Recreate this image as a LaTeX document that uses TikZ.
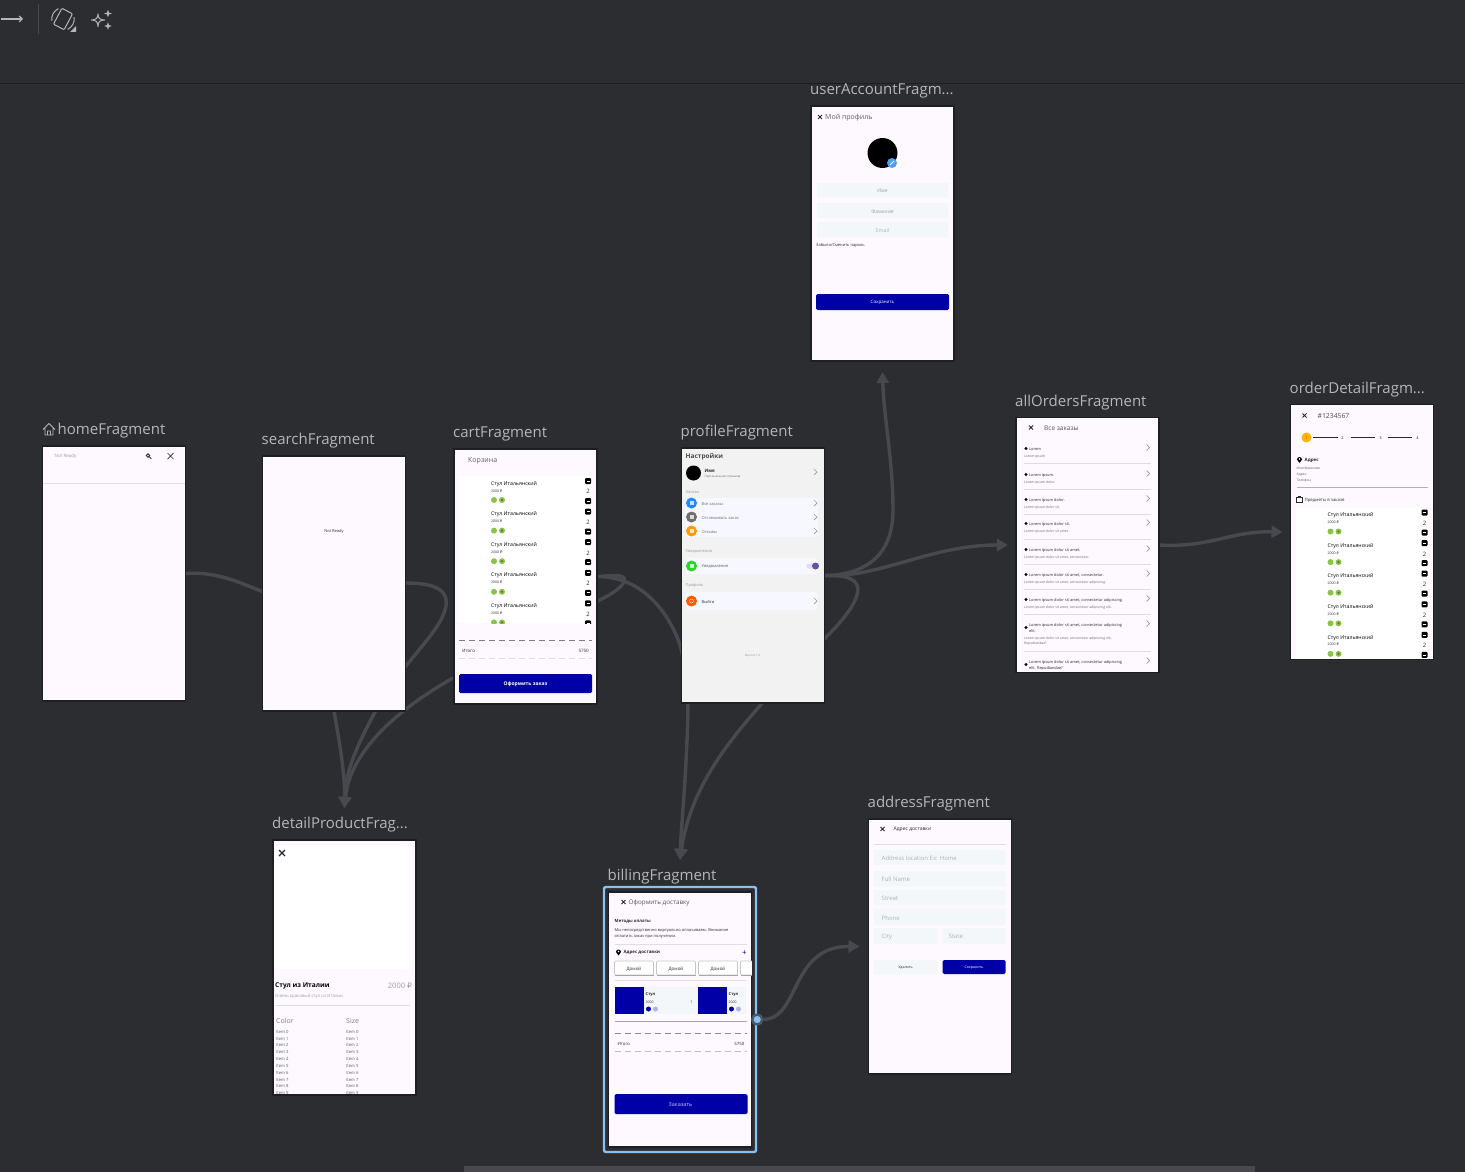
\documentclass[tikz,border=0pt]{standalone}
\usepackage{fontspec}
\setmainfont{Open Sans}
\newfontfamily\symfont{DejaVu Sans}
\usetikzlibrary{arrows.meta,positioning,backgrounds}

\definecolor{canvas}{HTML}{2B2D30}
\definecolor{edgeline}{HTML}{47494F}
\definecolor{frameline}{HTML}{1E1F22}
\definecolor{labelgray}{HTML}{B4B6BA}
\definecolor{screenbg}{HTML}{FEF8FF}
\definecolor{fieldbg}{HTML}{F4F7FA}
\definecolor{rulegray}{HTML}{DDDEE2}
\definecolor{mute}{HTML}{9A9CA2}
\definecolor{ink}{HTML}{2A2A2E}
\definecolor{btnblue}{HTML}{0000A6}
\definecolor{leafgreen}{HTML}{8BC34A}
\definecolor{selblue}{HTML}{8CC0F0}
\definecolor{toggleon}{HTML}{6750A4}
\definecolor{toggleoff}{HTML}{E4DAF5}

\newcommand{\rub}{{\symfont ₽}}

% list of chairs, used by cartFragment and orderDetailFragment
\newcommand{\chairlist}[2]{%
  \begin{scope}
    \clip (0,0) rectangle (133,#2);
    \fill[white] (0,0) rectangle (133,#2);
    \foreach \i in {0,...,4} {
      \begin{scope}[shift={(0,{30.6*\i})}]
        \node (#1name\i) [txt=5.2, text=black] at (32,7) {Стул Итальянский};
        \node (#1cost\i) [txt=3.5] at (32,14) {2000 \rub};
        \fill[leafgreen] (35,24) circle (3);
        \fill[leafgreen] (43,24) circle (3);
        \fill[leafgreen!60!black] (43,24) circle (1.2);
        \fill[black, rounded corners=1] (126,2) rectangle (132,8);
        \draw[white, line width=.8] (127.5,5) -- (130.5,5);
        \node (#1qty\i) [txt=6, anchor=center] at (129,15) {2};
        \fill[black, rounded corners=1] (126,22) rectangle (132,28);
        \draw[white, line width=.8] (127.5,25) -- (130.5,25);
      \end{scope}
    }
  \end{scope}
}

\begin{document}
\begin{tikzpicture}[
    x=1pt, y=-1pt, % one unit is one pixel of the reference
    screen/.style={rectangle, draw=frameline, line width=1.2pt, fill=screenbg, minimum width=143pt, minimum height=255pt, inner sep=0pt, outer sep=0pt},
    lbl/.style={font=\fontsize{15}{15}\selectfont, text=labelgray, inner sep=0pt, text height=12pt, text depth=4pt},
    txt/.style={font=\fontsize{#1}{#1}\selectfont, text=ink, inner sep=0pt, anchor=west, yshift=-.8pt},
    flow/.style={draw=edgeline, line width=3.4pt, -{Triangle[length=11pt,width=12pt]}},
    bluebtn/.style={fill=btnblue, rounded corners=1.5pt},
    field/.style={fill=fieldbg, rounded corners=1pt},
    hairline/.style={draw=rulegray, line width=.7pt},
    dashrule/.style={draw=#1, line width=.6pt, dash pattern=on 6pt off 4pt},
    chevron/.pic={\draw[mute, line width=.7pt] (-1.5,-3) -- (1.5,0) -- (-1.5,3);},
    closex/.pic={\draw[ink, line width=.8pt] (-2,-2) -- (2,2) (-2,2) -- (2,-2);}
]
    \useasboundingbox (0,0) rectangle (1465,1172);

    % the screens, each placed from its neighbour
    \node (home) [screen] at (114,573.5) {};
    \node (search) [screen, right=77pt of home, yshift=-10pt] {};
    \node (cart) [screen, right=48.5pt of search, yshift=7pt] {};
    \node (profile) [screen, right=84.5pt of cart, yshift=1pt, fill=white!95!black] {};
    \node (allOrders) [screen, right=191.5pt of profile, yshift=30.5pt] {};
    \node (orderDetail) [screen, right=131.5pt of allOrders, yshift=13pt] {};
    \node (userAccount) [screen, above=87pt of profile, xshift=129.5pt] {};
    \node (detailProduct) [screen, below=129pt of search, xshift=10.5pt] {};
    \node (billing) [screen, below=189pt of profile, xshift=-73pt] {};
    \node (address) [screen, right=117pt of billing, yshift=73pt] {};

    % the names above the screens
    \node (homeLbl) [lbl, above right=7pt and 15pt of home.north west] {homeFragment};
    \node (searchLbl) [lbl, above right=7pt and -1pt of search.north west] {searchFragment};
    \node (cartLbl) [lbl, above right=7pt and -1pt of cart.north west] {cartFragment};
    \node (profileLbl) [lbl, above right=7pt and -1pt of profile.north west] {profileFragment};
    \node (allOrdersLbl) [lbl, above right=7pt and -1pt of allOrders.north west] {allOrdersFragment};
    \node (orderDetailLbl) [lbl, above right=7pt and -1pt of orderDetail.north west] {orderDetailFragm...};
    \node (userAccountLbl) [lbl, above right=7pt and -1pt of userAccount.north west] {userAccountFragm...};
    \node (detailProductLbl) [lbl, above right=7pt and -1pt of detailProduct.north west] {detailProductFrag...};
    \node (billingLbl) [lbl, above right=7pt and -1pt of billing.north west] {billingFragment};
    \node (addressLbl) [lbl, above right=7pt and -1pt of address.north west] {addressFragment};
    \draw[labelgray, line width=.8pt, line join=round] (43,429.5) -- (49,423.5) -- (55,429.5) (45,428) -- (45,435) -- (53,435) -- (53,428) (47.5,435) -- (47.5,431) -- (50.5,431) -- (50.5,435);

    % free ends of the arrows
    \node (userIn) [coordinate, below=11pt of userAccount.south] {};
    \node (allIn) [coordinate, left=8pt of allOrders.west] {};
    \node (orderIn) [coordinate, left=8pt of orderDetail.west] {};
    \node (detailIn) [coordinate, above=32pt of detailProduct.north] {};
    \node (billingIn) [coordinate, above=32pt of billing.north] {};
    \node (addressIn) [coordinate, left=9pt of address.west] {};

    % selection round billingFragment
    \node (billingSel) [rectangle, draw=selblue, line width=2.4pt, rounded corners=2pt, minimum width=152pt, minimum height=265pt] at (billing.center) {};
    \node (billingOut) [circle, draw=canvas!70!selblue, line width=2.4pt, fill=selblue, minimum size=10pt, inner sep=0pt] at (billingSel.east) {};

    % the canvas and the arrows go under the screens
    \begin{pgfonlayer}{background}
        \fill[canvas] (0,0) rectangle (1465,1172);
        \draw[frameline, line width=1pt] (0,83.5) -- (1465,83.5);
        \fill[edgeline] (464,1166) rectangle (1255,1172);
        \draw[flow] (home.east) .. controls (235,570) and (262,600) .. (300,600) .. controls (340,600) and (370,582) .. (406,583) .. controls (435,583) and (451,590) .. (445,610) .. controls (438,635) and (400,665) .. (375,712) .. controls (360,740) and (345,770) .. (detailIn);
        \draw[flow] (search.south) .. controls (340,745) and (345,775) .. (detailIn);
        \draw[flow] (cart.east) .. controls (610,576) and (632,572) .. (622,585) .. controls (615,593) and (605,597) .. (598,601) .. controls (550,630) and (500,650) .. (453,678) .. controls (400,708) and (350,750) .. (detailIn);
        \draw[flow] (cart.east) .. controls (640,576) and (668,610) .. (680,645) .. controls (690,680) and (688,720) .. (687,740) .. controls (685,790) and (681,830) .. (billingIn);
        \draw[flow] (profile.east) .. controls (845,575) and (862,578) .. (857,595) .. controls (850,620) and (810,650) .. (765,700) .. controls (725,745) and (690,790) .. (billingIn);
        \draw[flow] (profile.east) .. controls (860,575) and (893,560) .. (893,510) .. controls (893,460) and (884,420) .. (userIn);
        \draw[flow] (profile.east) .. controls (880,578) and (930,545) .. (allIn);
        \draw[flow] (allOrders.east) .. controls (1210,548) and (1230,531) .. (orderIn);
        \draw[flow] (billingOut) .. controls (800,1019) and (790,946) .. (addressIn);
    \end{pgfonlayer}

    % toolbar
    \draw[labelgray, line width=1.2pt, -{Straight Barb[length=3pt,width=6pt]}] (1,19) -- (23,19);
    \draw[edgeline, line width=1pt] (38,4) -- (38,34);
    \begin{scope}[shift={(63,19)}, rotate=-28]
        \draw[labelgray, line width=1pt, rounded corners=1pt] (-6,-9) rectangle (6,9);
        \draw[labelgray, line width=1pt] (-9,-7) .. controls (-12,-2) and (-12,2) .. (-9,7);
        \draw[labelgray, line width=1pt] (9,-7) .. controls (12,-2) and (12,2) .. (9,7);
    \end{scope}
    \fill[labelgray] (76,26) -- (76,32) -- (70,32) -- cycle;
    \draw[labelgray, line width=1pt, line join=round] (91.5,20) .. controls (96,20) and (98,18) .. (98,14) .. controls (98,18) and (100,20) .. (104.5,20) .. controls (100,20) and (98,22) .. (98,26.5) .. controls (98,22) and (96,20) .. (91.5,20) -- cycle;
    \fill[labelgray] (108,9.5) .. controls (108.3,12.5) and (109,13.2) .. (112,13.5) .. controls (109,13.8) and (108.3,14.5) .. (108,17.5) .. controls (107.7,14.5) and (107,13.8) .. (104,13.5) .. controls (107,13.2) and (107.7,12.5) .. (108,9.5) -- cycle;
    \fill[labelgray] (108,22) .. controls (108.3,25) and (109,25.7) .. (112,26) .. controls (109,26.3) and (108.3,27) .. (108,30) .. controls (107.7,27) and (107,26.3) .. (104,26) .. controls (107,25.7) and (107.7,25) .. (108,22) -- cycle;

    % homeFragment
    \begin{scope}[shift={(home.north west)}]
        \node (homeText) [txt=4.5, text=mute] at (12,10) {Not Ready};
        \draw[ink, line width=.8pt] (105.5,9.5) circle (1.8) (107,11) -- (108.8,12.8);
        \draw[ink, line width=.7pt] (125,7) -- (131,13) (125,13) -- (131,7);
        \draw[hairline] (0,37) -- (142.5,37);
    \end{scope}

    % searchFragment
    \node (searchText) [txt=4, anchor=center] [below=72pt of search.north] {Not Ready};

    % cartFragment
    \begin{scope}[shift={(cart.north west)}]
        \node (cartTitle) [txt=7, text=ink!75] at (14,11) {Корзина};
        \begin{scope}[shift={(5,27)}]
            \chairlist{cart}{147}
        \end{scope}
        \draw[dashrule=ink!60] (5,191) -- (138,191);
        \draw[dashrule=rulegray] (5,209) -- (138,209);
        \node (cartSum) [txt=4.5] at (8,201) {Итого};
        \node (cartSumVal) [txt=4.5, anchor=east] at (135,201) {5750};
        \fill[bluebtn] (5,225) rectangle (138,244);
        \node (cartBtn) [txt=5, text=white, anchor=center, font=\fontsize{5}{5}\selectfont\bfseries] at (71.5,234.5) {Оформить заказ};
    \end{scope}

    % profileFragment
    \begin{scope}[shift={(profile.north west)}]
        \node (profTitle) [txt=6.5, text=ink!85, font=\fontsize{6.5}{6.5}\selectfont\bfseries] at (4,8) {Настройки};
        \fill[black] (12,25) circle (7.5);
        \node (profName) [txt=4.5, font=\fontsize{4.5}{4.5}\selectfont\bfseries] at (23,22) {Имя};
        \node (profPage) [txt=3, text=ink!70] at (23,28) {Персональная страница};
        \pic at (134,24) {chevron};
        \node (profOrders) [txt=4, text=mute] at (4,43) {Заказы};
        \fill[white!97!blue, rounded corners=3pt] (4,50) rectangle (136,89);
        \foreach \ty/\tc/\tx in {55/1E88FF/Все заказы, 69/6E6E6E/Отслеживать заказ, 83/FF9800/Отзывы} {
            \definecolor{iconc}{HTML}{\tc}
            \fill[iconc] (10,\ty) circle (5.5);
            \fill[white, opacity=.75] (8,\ty-2) rectangle (12,\ty+2);
            \node (prof\ty) [txt=4, text=ink!70] at (20,\ty) {\tx};
            \pic at (134,\ty) {chevron};
        }
        \node (profNotif) [txt=4, text=mute] at (4,103) {Уведомления};
        \fill[white!97!blue, rounded corners=3pt] (4,110) rectangle (136,126);
        \fill[green!70!gray] (10,118) circle (5.5);
        \fill[white, opacity=.8] (8,116) rectangle (12,120);
        \node (profNotifRow) [txt=4, text=ink!80] at (20,118) {Уведомления};
        \fill[toggleoff, rounded corners=2pt] (125,115.5) rectangle (136,120.5);
        \fill[toggleon] (134,118) circle (3.5);
        \node (profProfile) [txt=4, text=mute] at (4,137) {Профиль};
        \fill[white!97!blue, rounded corners=3pt] (4,144) rectangle (136,162);
        \fill[orange!70!red] (10,153) circle (5.5);
        \draw[white, opacity=.8, line width=.5pt] (10,153) circle (2);
        \node (profExit) [txt=4, text=ink] at (20,153) {Выйти};
        \pic at (134,153) {chevron};
        \node (profVer) [txt=3, text=mute, anchor=center] at (71,207) {Версия 1.0};
    \end{scope}

    % allOrdersFragment
    \begin{scope}[shift={(allOrders.north west)}]
        \pic at (15,10) {closex};
        \node (allTitle) [txt=6.5, text=ink!80] at (28,10) {Все заказы};
        \foreach \ty/\rt/\rs/\dv in {
            31/{Lorem}/{Lorem ipsum}/46,
            57/{Lorem ipsum.}/{Lorem ipsum dolor.}/72,
            82/{Lorem ipsum dolor.}/{Lorem ipsum dolor sit.}/97,
            106/{Lorem ipsum dolor sit.}/{Lorem ipsum dolor sit amet.}/122,
            132/{Lorem ipsum dolor sit amet.}/{Lorem ipsum dolor sit amet, consectetur.}/147,
            157/{Lorem ipsum dolor sit amet, consectetur.}/{Lorem ipsum dolor sit amet, consectetur adipiscing.}/172,
            182/{Lorem ipsum dolor sit amet, consectetur adipiscing.}/{Lorem ipsum dolor sit amet, consectetur adipiscing elit.}/197} {
            \fill[black] (10,\ty) circle (1.6);
            \node (allRow\ty) [txt=3.9] at (13,\ty) {\rt};
            \node (allSub\ty) [txt=3.4, text=ink!70] at (8,\ty+7) {\rs};
            \pic at (132,\ty-1) {chevron};
            \draw[hairline] (8,\dv) -- (135,\dv);
        }
        \fill[black] (10,210) circle (1.6);
        \node (allRow8) [txt=3.9] at (13,207) {Lorem ipsum dolor sit amet, consectetur adipiscing};
        \node (allRow8b) [txt=3.9] at (13,213) {elit.};
        \node (allSub8) [txt=3.4, text=ink!70] at (8,220) {Lorem ipsum dolor sit amet, consectetur adipiscing elit,};
        \node (allSub8b) [txt=3.4, text=ink!70] at (8,225) {Repudiandae?};
        \pic at (132,206) {chevron};
        \draw[hairline] (8,234) -- (135,234);
        \fill[black] (10,247) circle (1.6);
        \node (allRow9) [txt=3.9] at (13,244) {Lorem ipsum dolor sit amet, consectetur adipiscing};
        \node (allRow9b) [txt=3.9] at (13,250) {elit. Repudiandae?};
        \pic at (132,243) {chevron};
    \end{scope}

    % orderDetailFragment
    \begin{scope}[shift={(orderDetail.north west)}]
        \pic at (14,11) {closex};
        \node (orderTitle) [txt=6.8, text=ink!85] at (27,11) {\#1234567};
        \fill[orange!60!yellow] (16,33) circle (5);
        \node (orderStep1) [txt=4, anchor=center, text=orange!60!black] at (16,33) {1};
        \draw[ink, line width=.7pt] (22,33) -- (47,33);
        \node (orderStep2) [txt=4, anchor=center] at (52,33) {2};
        \draw[ink, line width=.7pt] (60,33) -- (84,33);
        \node (orderStep3) [txt=4, anchor=center] at (90,33) {3};
        \draw[ink, line width=.7pt] (97,33) -- (121,33);
        \node (orderStep4) [txt=4, anchor=center] at (127,33) {4};
        \fill[black] (9,58.5) -- (6.5,55) arc (180:360:2.5) -- cycle;
        \fill[white] (9,54.5) circle (.9);
        \node (orderAddr) [txt=4.5, font=\fontsize{4.5}{4.5}\selectfont\bfseries] at (14,55) {Адрес};
        \node (orderAddr1) [txt=3.4, text=ink!75] at (6,63) {Имя Фамилия};
        \node (orderAddr2) [txt=3.4, text=ink!75] at (6,69) {Адрес};
        \node (orderAddr3) [txt=3.4, text=ink!75] at (6,75) {Телефон};
        \draw[hairline, draw=gray!60] (6,83) -- (137,83);
        \draw[ink, line width=.6pt] (6,98) -- (6,93) -- (12,93) -- (12,98) -- cycle (8,93) -- (8,91.5) -- (10,91.5) -- (10,93);
        \node (orderItems) [txt=4.3] at (14,95) {Предметы в заказе};
        \begin{scope}[shift={(5,103)}]
            \chairlist{order}{151.4}
        \end{scope}
    \end{scope}

    % userAccountFragment
    \begin{scope}[shift={(userAccount.north west)}]
        \pic at (9,11) {closex};
        \node (userTitle) [txt=7, text=ink!75] at (14,11) {Мой профиль};
        \fill[black] (71.5,47) circle (15);
        \fill[blue!55!cyan!70!white] (81,57) circle (5);
        \draw[white, line width=1pt] (79,59) -- (83,55);
        \fill[field] (6,77) rectangle (137,91);
        \fill[field] (6,97) rectangle (137,112);
        \fill[field] (6,116) rectangle (137,131);
        \node (userName) [txt=5, text=mute, anchor=center] at (71.5,84) {Имя};
        \node (userSurname) [txt=5, text=mute, anchor=center] at (71.5,104.5) {Фамилия};
        \node (userMail) [txt=5.5, text=mute!70, anchor=center] at (71.5,123.5) {Email};
        \node (userForgot) [txt=4] at (5,139) {Забыли/Сменить пароль};
        \fill[bluebtn] (5,188) rectangle (138,204);
        \node (userSave) [txt=4.5, text=white, anchor=center] at (71.5,196) {Сохранить};
    \end{scope}

    % detailProductFragment
    \begin{scope}[shift={(detailProduct.north west)}]
        \clip (0,0) rectangle (143,255);
        \fill[white, rounded corners=5pt] (2,6) rectangle (139,129);
        \draw[ink, line width=1.1pt] (6,10) -- (12,16) (6,16) -- (12,10);
        \node (detailName) [txt=6.6, text=black, font=\fontsize{6.6}{6.6}\selectfont\bfseries] at (2,145) {Стул из Италии};
        \node (detailCost) [txt=7.5, text=mute, anchor=east] at (139,145) {2000 \rub};
        \node (detailSub) [txt=4.3, text=mute] at (2,156) {Очень красивый стул из Италии};
        \draw[hairline] (3,165) -- (137,165);
        \node (detailColor) [txt=7, text=ink!60] at (3,180) {Color};
        \node (detailSize) [txt=7, text=ink!60] at (73,180) {Size};
        \foreach \i in {0,...,9} {
            \node (colorItem\i) [txt=4.2, text=ink!75] at (3,{191+6.83*\i}) {Item \i};
            \node (sizeItem\i) [txt=4.2, text=ink!75] at (73,{191+6.83*\i}) {Item \i};
        }
    \end{scope}

    % billingFragment
    \begin{scope}[shift={(billing.north west)}]
        \pic at (15,10) {closex};
        \node (billTitle) [txt=6.3, text=ink!80] at (20,10) {Оформить доставку};
        \node (billMethods) [txt=4.3, font=\fontsize{4.3}{4.3}\selectfont\bfseries] at (6,29) {Методы оплаты};
        \node (billNote1) [txt=4] at (6,38) {Мы непосредственно виртуально оплачиваем. Внимание};
        \node (billNote2) [txt=4] at (6,44) {оплатить заказ при получении.};
        \draw[hairline] (6,52) -- (138,52);
        \fill[black] (10,63.5) -- (7.5,60) arc (180:360:2.5) -- cycle;
        \fill[white] (10,59.5) circle (.9);
        \node (billAddr) [txt=4.4, font=\fontsize{4.4}{4.4}\selectfont\bfseries] at (15,60) {Адрес доставки};
        \node (billPlus) [txt=8, anchor=center, text=btnblue!70!black] at (136,60) {+};
        \begin{scope}
            \clip (0,60) rectangle (143.4,100);
            \foreach \cx in {6,48,90,132} {
                \draw[gray!45, fill=white, line width=.6pt, rounded corners=1pt] (\cx,69) rectangle ++(39,14);
                \draw[gray!70, line width=.7pt] (\cx,83) -- ++(39,0);
            }
        \end{scope}
        \node (billHome1) [txt=4.5, anchor=center] at (25.5,76) {Домой};
        \node (billHome2) [txt=4.5, anchor=center] at (67.5,76) {Домой};
        \node (billHome3) [txt=4.5, anchor=center] at (109.5,76) {Домой};
        \draw[hairline] (6,88) -- (138,88);
        \fill[fieldbg] (6,95) rectangle (138,122);
        \foreach \ox in {0,83} {
            \fill[btnblue] (6+\ox,95) rectangle (35+\ox,122);
            \node (billItem\ox) [txt=4, font=\fontsize{4}{4}\selectfont\bfseries] at (37+\ox,102) {Стул};
            \node (billCost\ox) [txt=3.4] at (37+\ox,109) {2000};
            \fill[btnblue] (40+\ox,117) circle (2.5);
            \fill[gray!50!blue!40] (47+\ox,117) circle (2.5);
        }
        \node (billQty) [txt=3.8, anchor=center] at (83,109) {1};
        \draw[hairline, draw=gray!70] (6,129) -- (138,129);
        \draw[dashrule=ink!55] (6,141) -- (138,141);
        \draw[dashrule=gray!50] (6,159) -- (138,159);
        \node (billSum) [txt=4.3] at (9,151) {Итого};
        \node (billSumVal) [txt=4.3, anchor=east] at (136,151) {5750};
        \fill[bluebtn] (6,202) rectangle (139,222);
        \node (billBtn) [txt=5.5, text=white!75!blue, anchor=center] at (72,212) {Заказать};
    \end{scope}

    % addressFragment
    \begin{scope}[shift={(address.north west)}]
        \pic at (14,10) {closex};
        \node (addrTitle) [txt=5] at (25,10) {Адрес доставки};
        \draw[hairline] (5,25) -- (137,25);
        \foreach \fy/\fh/\fx in {31/15/Address location Ex: Home, 52/15/Full Name, 71/15/Street, 90/16/Phone} {
            \fill[field] (5,\fy) rectangle (137,\fy+\fh);
            \node (addr\fy) [txt=6, text=mute!80] at (13,\fy+\fh/2) {\fx};
        }
        \fill[field] (5,109) rectangle (69,125);
        \fill[field] (74,109) rectangle (137,125);
        \node (addrCity) [txt=6, text=mute!80] at (13,117) {City};
        \node (addrState) [txt=6, text=mute!80] at (80,117) {State};
        \fill[field] (5,141) rectangle (69,155);
        \fill[bluebtn] (74,141) rectangle (137,155);
        \node (addrDrop) [txt=3.6, anchor=center] at (37,148) {Удалить};
        \node (addrSave) [txt=3.6, text=white, anchor=center] at (105.5,148) {Сохранить};
    \end{scope}
\end{tikzpicture}
\end{document}
